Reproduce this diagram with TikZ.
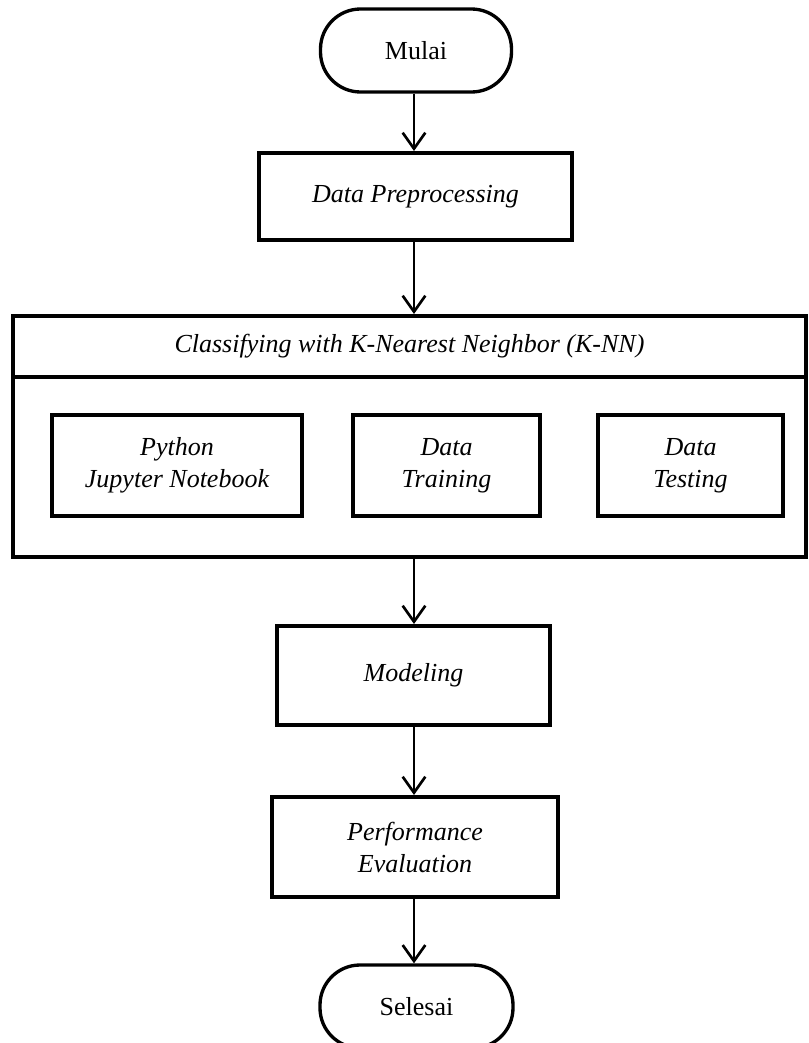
\documentclass[tikz,border=0pt]{standalone}
\usepackage{fontspec}
\setmainfont{Liberation Serif}
\usetikzlibrary{arrows.meta}
\tikzset{
  pxbox/.style={draw, line width=3pt, rectangle, inner sep=0pt, align=center,
    font=\itshape\fontsize{19.5pt}{24pt}\selectfont},
  term/.style={draw, line width=2.5pt, rectangle, rounded corners=30pt, inner sep=0pt,
    font=\fontsize{19.5pt}{24pt}\selectfont},
  arr/.style={line width=2pt, -{Straight Barb[length=12pt,width=17pt,line width=2pt]}}
}
\begin{document}
\begin{tikzpicture}[x=0.75pt,y=-0.75pt]
\useasboundingbox (0,0) rectangle (808,1043);
\node[term, minimum width=191*0.75pt, minimum height=83*0.75pt] (mulai) at (416,50.5) {Mulai};
\node[pxbox, minimum width=313*0.75pt, minimum height=87*0.75pt] (dp) at (415.5,196.5) {Data Preprocessing};
\node[pxbox, minimum width=793*0.75pt, minimum height=61*0.75pt] (hdr) at (409.5,346.5) {Classifying with K-Nearest Neighbor (K-NN)};
\node[pxbox, minimum width=793*0.75pt, minimum height=180*0.75pt] (body) at (409.5,467) {};
\node[pxbox, minimum width=250*0.75pt, minimum height=101*0.75pt] (py) at (177,465.5) {Python\\Jupyter Notebook};
\node[pxbox, minimum width=187*0.75pt, minimum height=101*0.75pt] (train) at (446.5,465.5) {Data\\Training};
\node[pxbox, minimum width=185*0.75pt, minimum height=101*0.75pt] (test) at (690.5,465.5) {Data\\Testing};
\node[pxbox, minimum width=273*0.75pt, minimum height=99*0.75pt] (mod) at (413.5,675.5) {Modeling};
\node[pxbox, minimum width=286*0.75pt, minimum height=100*0.75pt] (perf) at (415,847) {Performance\\Evaluation};
\node[term, minimum width=193*0.75pt, minimum height=83*0.75pt] (selesai) at (416.5,1006.5) {Selesai};
\draw[arr] (mulai.south -| 414,0) -- (dp.north -| 414,0);
\draw[arr] (dp.south -| 414,0) -- (hdr.north -| 414,0);
\draw[arr] (body.south -| 414,0) -- (mod.north -| 414,0);
\draw[arr] (mod.south -| 414,0) -- (perf.north -| 414,0);
\draw[arr] (perf.south -| 414,0) -- (selesai.north -| 414,0);
\end{tikzpicture}
\end{document}
